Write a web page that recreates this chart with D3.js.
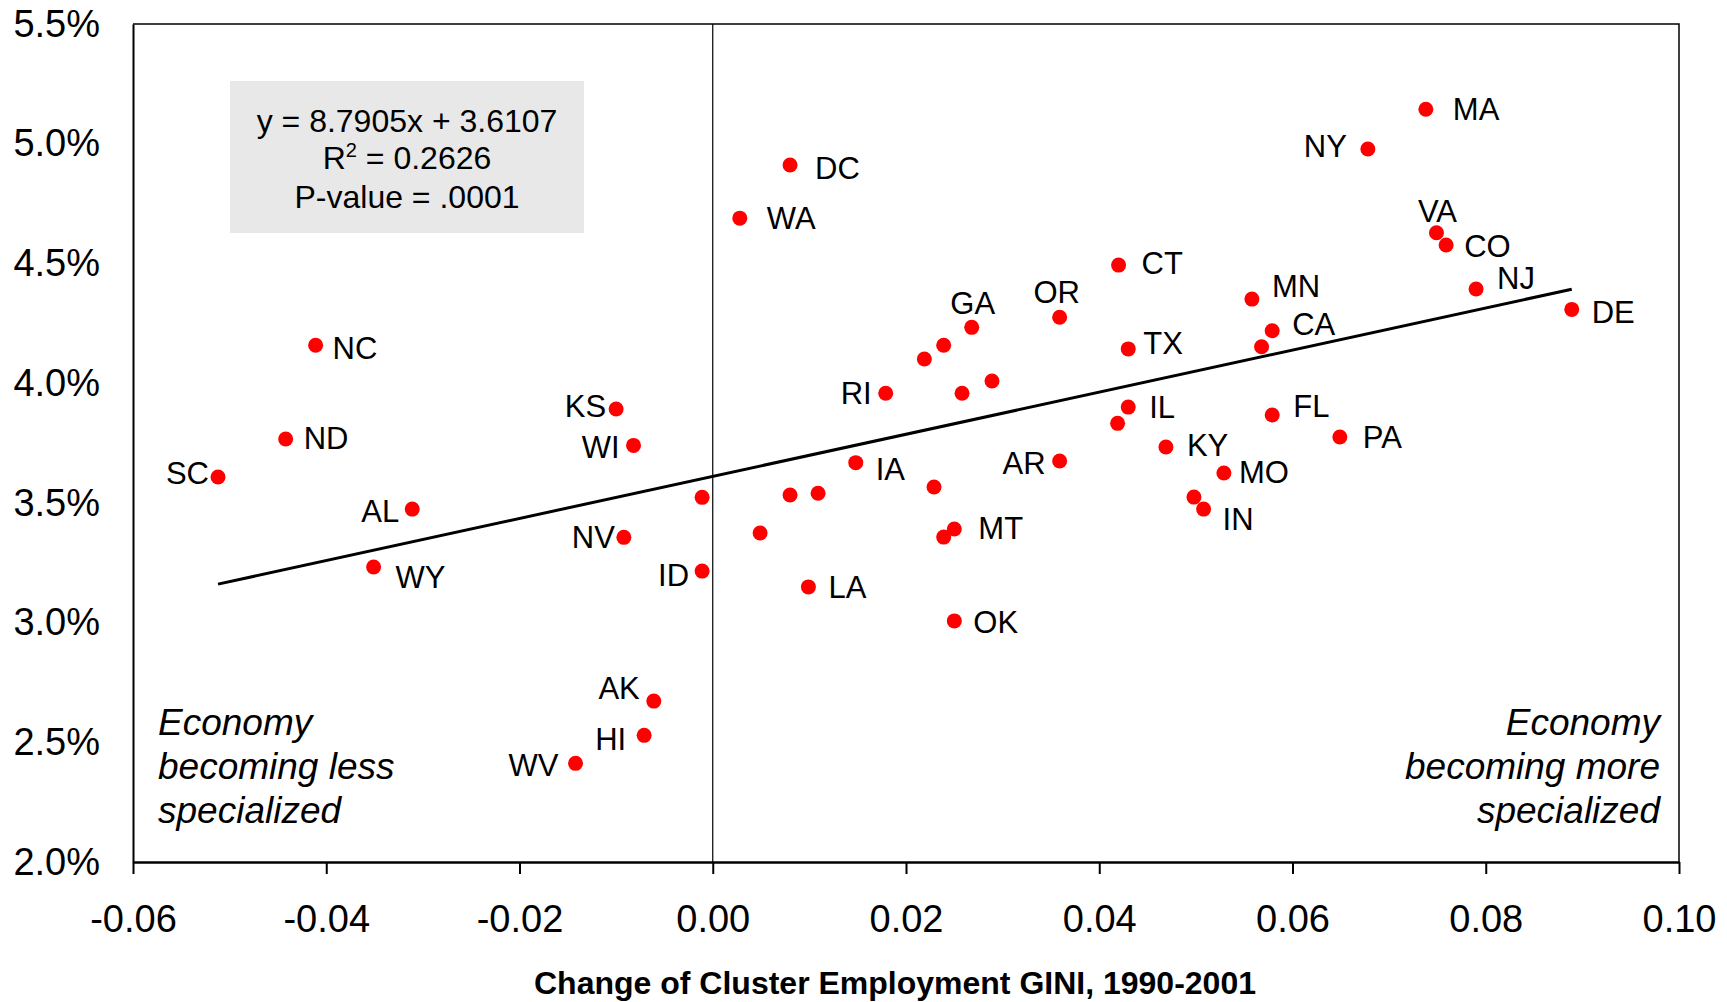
<!DOCTYPE html>
<meta charset="utf-8">
<style>

body {
  margin: 0;
  background-color: #ffffff;
}

text {
  font-family: "Liberation Sans", Arial, Helvetica, sans-serif;
  fill: #000000;
}

.tick-label {
  font-size: 38px;
}

.state-label {
  font-size: 31px;
}

.stats {
  font-size: 32px;
  text-anchor: middle;
}

.note {
  font-size: 37px;
  font-style: italic;
}

.axis-title {
  font-size: 32px;
  font-weight: bold;
  text-anchor: middle;
}

.dot {
  fill: #ff0000;
}

.trend {
  fill: none;
  stroke: #000000;
  stroke-width: 3px;
}

</style>
<svg width=1727 height=1002></svg>
<script src='https://d3js.org/d3.v7.min.js'></script>
<script>

// Data: change in cluster employment GINI vs. growth
const states = ["MA", "NY", "DC", "WA", "VA", "CO", "NJ", "DE", "CT", "MN",
                "OR", "CA", "GA", "TX", "RI", "NC", "KS", "IL", "FL", "ND",
                "PA", "WI", "KY", "AR", "IA", "MO", "SC", "IN", "AL", "MT",
                "NV", "WY", "ID", "LA", "OK", "AK", "HI", "WV",
                "", "", "", "", "", "", "", "", "", "", "", "", ""];
const giniChange = [0.0738, 0.0678, 0.0080, 0.0028, 0.0749, 0.0759, 0.0790, 0.0889, 0.0420, 0.0558,
                    0.0359, 0.0579, 0.0268, 0.0430, 0.0179, -0.0411, -0.0100, 0.0430, 0.0579, -0.0442,
                    0.0649, -0.0082, 0.0469, 0.0359, 0.0148, 0.0529, -0.0512, 0.0508, -0.0311, 0.0250,
                    -0.0092, -0.0351, -0.0011, 0.0099, 0.0250, -0.0061, -0.0071, -0.0142,
                    0.0239, 0.0219, 0.0568, 0.0289, 0.0258, 0.0419, 0.0229, 0.0498, -0.0011, 0.0080,
                    0.0109, 0.0049, 0.0239];
const growth = [5.144, 4.978, 4.911, 4.689, 4.628, 4.577, 4.393, 4.308, 4.493, 4.351,
                4.275, 4.219, 4.233, 4.143, 3.958, 4.158, 3.892, 3.900, 3.867, 3.767,
                3.775, 3.740, 3.733, 3.675, 3.668, 3.625, 3.608, 3.474, 3.474, 3.391,
                3.356, 3.232, 3.215, 3.149, 3.007, 2.672, 2.529, 2.412,
                4.158, 4.101, 4.152, 4.009, 3.958, 3.832, 3.566, 3.524, 3.523, 3.533,
                3.540, 3.374, 3.357];

const xTicks = [-0.06, -0.04, -0.02, 0.00, 0.02, 0.04, 0.06, 0.08, 0.10];
const yTicks = [2.0, 2.5, 3.0, 3.5, 4.0, 4.5, 5.0, 5.5];

const slope = 8.7905;
const intercept = 3.6107;
const statsLines = ["y = 8.7905x + 3.6107", "R", "P-value = .0001"];

const xTitle = "Change of Cluster Employment GINI, 1990-2001";
const noteLeft = ["Economy", "becoming less", "specialized"];
const noteRight = ["Economy", "becoming more", "specialized"];

// label placement: [anchor, dx, dy] relative to the dot
const labelPlace = {
  MA: ["start", 27, 11], NY: ["end", -21, 8], DC: ["start", 25, 14], WA: ["start", 27, 11],
  VA: ["middle", 1, -11], CO: ["start", 18, 12], NJ: ["start", 21, 0], DE: ["start", 20, 14],
  CT: ["start", 23, 9], MN: ["start", 20, -2], OR: ["middle", -3, -14], CA: ["start", 20, 4],
  GA: ["middle", 1, -13], TX: ["start", 15, 5], RI: ["end", -14, 11], NC: ["start", 17, 14],
  KS: ["end", -10, 8], IL: ["start", 21, 11], FL: ["start", 21, 2], ND: ["start", 18, 10],
  PA: ["start", 23, 11], WI: ["end", -14, 13], KY: ["start", 21, 9], AR: ["end", -14, 13],
  IA: ["start", 20, 17], MO: ["start", 15, 10], SC: ["end", -9, 7], IN: ["start", 19, 21],
  AL: ["end", -13, 13], MT: ["start", 24, 10], NV: ["end", -9, 11], WY: ["start", 22, 21],
  ID: ["end", -13, 15], LA: ["start", 20, 11], OK: ["start", 19, 12], AK: ["end", -14, -2],
  HI: ["end", -18, 15], WV: ["end", -17, 13]
};

const plot = {left: 133, right: 1679, top: 24, bottom: 862};
const radius = 7.5;

let svg = d3.select("svg");

let x = d3.scaleLinear().domain([-0.06, 0.10]).range([plot.left, plot.right]);
let y = d3.scaleLinear().domain([2.0, 5.5]).range([plot.bottom, plot.top]);

let points = states.map((s, i) => ({state: s, gx: giniChange[i], gy: growth[i]}));

drawFrame();
drawStatsBox();
drawNotes();
drawTrend();
drawPoints();

function drawFrame() {
  // top + right frame
  svg.append("path")
    .attr("d", "M" + plot.left + "," + plot.top + "H" + plot.right + "V" + plot.bottom)
    .attr("fill", "none")
    .attr("stroke", "#000")
    .attr("stroke-width", 1.5);

  // y axis: line only, no tick marks
  let yAxis = svg.append("g")
    .attr("transform", "translate(" + plot.left + ",0)")
    .call(d3.axisLeft(y).tickValues(yTicks).tickSize(0).tickPadding(33)
      .tickFormat(d => d.toFixed(1) + "%"));
  yAxis.select(".domain").attr("stroke-width", 2);
  yAxis.selectAll("text").attr("class", "tick-label").attr("font-size", null).attr("font-family", null);

  // zero line
  svg.append("line")
    .attr("x1", x(0)).attr("x2", x(0))
    .attr("y1", plot.top).attr("y2", plot.bottom)
    .attr("stroke", "#000")
    .attr("stroke-width", 1.2);

  // x axis with outside ticks
  let xAxis = svg.append("g")
    .attr("transform", "translate(0," + plot.bottom + ")")
    .call(d3.axisBottom(x).tickValues(xTicks).tickSizeInner(12).tickSizeOuter(0).tickPadding(31)
      .tickFormat(d => d.toFixed(2)));
  xAxis.select(".domain").attr("stroke-width", 2.5);
  xAxis.selectAll(".tick line").attr("stroke-width", 2);
  xAxis.selectAll("text").attr("class", "tick-label").attr("font-size", null).attr("font-family", null);

  svg.append("text")
    .attr("class", "axis-title")
    .attr("x", 895)
    .attr("y", 994)
    .text(xTitle);
}

function drawStatsBox() {
  svg.append("rect")
    .attr("x", 230).attr("y", 81)
    .attr("width", 354).attr("height", 152)
    .attr("fill", "#e8e8e8");

  let cx = 407;
  svg.append("text").attr("class", "stats").attr("x", cx).attr("y", 132).text(statsLines[0]);

  let r2 = svg.append("text").attr("class", "stats").attr("x", cx).attr("y", 169);
  r2.append("tspan").text(statsLines[1]);
  r2.append("tspan").attr("font-size", "20px").attr("dy", -12).text("2");
  r2.append("tspan").attr("dy", 12).text(" = 0.2626");

  svg.append("text").attr("class", "stats").attr("x", cx).attr("y", 208).text(statsLines[2]);
}

function drawNotes() {
  noteLeft.forEach((line, i) => {
    svg.append("text").attr("class", "note")
      .attr("x", 158).attr("y", 735 + i * 44)
      .text(line);
  });
  noteRight.forEach((line, i) => {
    svg.append("text").attr("class", "note")
      .attr("x", 1660).attr("y", 735 + i * 44)
      .attr("text-anchor", "end")
      .text(line);
  });
}

function drawTrend() {
  let ext = d3.extent(giniChange);
  let line = d3.line().x(d => x(d)).y(d => y(slope * d + intercept));
  svg.append("path")
    .attr("class", "trend")
    .attr("d", line(ext));
}

function drawPoints() {
  svg.selectAll(".dot")
    .data(points)
    .enter().append("circle")
    .attr("class", "dot")
    .attr("cx", d => x(d.gx))
    .attr("cy", d => y(d.gy))
    .attr("r", radius);

  svg.selectAll(".state-label")
    .data(points.filter(d => d.state !== ""))
    .enter().append("text")
    .attr("class", "state-label")
    .attr("text-anchor", d => labelPlace[d.state][0])
    .attr("x", d => x(d.gx) + labelPlace[d.state][1])
    .attr("y", d => y(d.gy) + labelPlace[d.state][2])
    .text(d => d.state);
}
</script>
